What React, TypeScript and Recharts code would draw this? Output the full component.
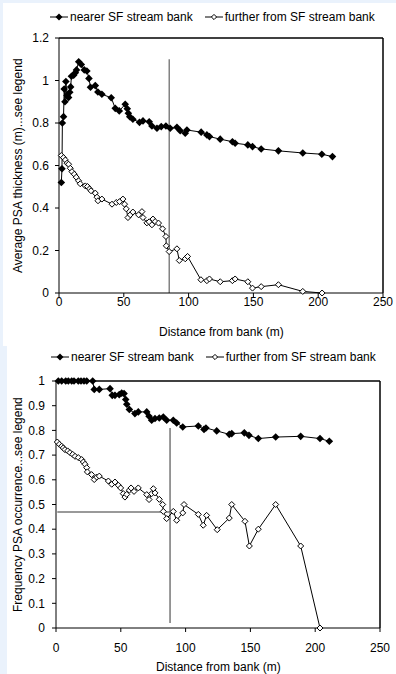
import React from "react";
import {
  LineChart,
  Line,
  XAxis,
  YAxis,
  Legend,
  ReferenceLine,
} from "recharts";

const FONT = "'Liberation Sans', Arial, sans-serif";

// distance ticks shared by both panels
const distTicks = [0, 50, 100, 150, 200, 250];
const thickTicks = [0, 0.2, 0.4, 0.6, 0.8, 1, 1.2];
const freqTicks = [0, 0.1, 0.2, 0.3, 0.4, 0.5, 0.6, 0.7, 0.8, 0.9, 1];

const legendNames = ["nearer SF stream bank", "further from SF stream bank"];
const xTitle = "Distance from bank (m)";
const thickTitle = "Average PSA thickness (m)...see legend";
const freqTitle = "Frequency PSA occurrence...see legend";

// top panel: average PSA thickness, nearer bank
const thickNearDist = [
  1.8, 2.3, 2.6, 3.5, 4.0, 4.6, 5.3, 6.2, 7.4, 8.3, 9.0, 9.6, 11.3, 12.6, 13.5,
  15.2, 17.2, 19.5, 21.5, 23.1, 24.3, 28, 30, 33.1, 40.3, 43.4, 46.5, 51.1, 52.7,
  53.5, 54.6, 57, 62.1, 64.8, 69.6, 71.7, 75.6, 78.9, 82.5, 85.8, 91, 93.5, 97.4,
  98.7, 109.7, 114.1, 116.1, 124.4, 133.8, 135.9, 145.7, 149.3, 156, 169.3,
  188.1, 202.8, 211,
];
const thickNearVal = [
  0.52, 0.585, 0.8, 0.83, 0.96, 0.9, 0.995, 0.93, 0.92, 0.945, 0.97, 1.02, 1.025,
  1.037, 1.05, 1.088, 1.075, 1.05, 1.045, 1.01, 0.968, 0.976, 0.946, 0.935, 0.919,
  0.869, 0.857, 0.888, 0.867, 0.846, 0.83, 0.818, 0.803, 0.81, 0.806, 0.786,
  0.775, 0.783, 0.786, 0.775, 0.78, 0.764, 0.752, 0.767, 0.757, 0.744, 0.736,
  0.724, 0.712, 0.705, 0.697, 0.689, 0.678, 0.669, 0.659, 0.653, 0.642,
];

// top panel: average PSA thickness, further from bank
const thickFarDist = [
  1.8, 3.5, 4.9, 6.2, 7.4, 8.7, 10, 11.8, 13.3, 15.1, 16.4, 20.3, 22, 23.6, 24.7,
  28, 29.3, 30.1, 33.1, 40.9, 44.2, 46.7, 49.3, 50.6, 51.9, 53.2, 55, 57, 61.4,
  64, 64.8, 67.8, 69.6, 71.7, 72.5, 74.2, 76.8, 79.9, 82.5, 82.8, 85, 91, 92.8,
  97.4, 99.2, 109.5, 114.1, 116.1, 124.4, 133.8, 135.9, 145.7, 149.3, 156, 169.3,
  188.1, 203,
];
const thickFarVal = [
  0.647, 0.637, 0.626, 0.611, 0.606, 0.587, 0.571, 0.559, 0.545, 0.528, 0.514,
  0.504, 0.501, 0.49, 0.481, 0.47, 0.451, 0.434, 0.442, 0.418, 0.426, 0.43, 0.442,
  0.418, 0.396, 0.355, 0.368, 0.381, 0.368, 0.383, 0.355, 0.33, 0.335, 0.321,
  0.348, 0.336, 0.329, 0.302, 0.266, 0.222, 0.195, 0.208, 0.153, 0.161, 0.172,
  0.0625, 0.058, 0.066, 0.053, 0.058, 0.066, 0.053, 0.023, 0.03, 0.039, 0.0075, 0,
];

// bottom panel: frequency of PSA occurrence, nearer bank
const freqNearDist = [
  1.8, 4.4, 7.5, 9.5, 12.1, 13.9, 17.2, 19.3, 21.6, 23.7, 28.3, 29.5, 33.4, 41.7,
  43.4, 45.5, 48.8, 50.7, 52.5, 53.8, 54.6, 56.6, 60.9, 63.5, 70, 71.8, 73.8,
  76.4, 79.7, 82.8, 85.4, 90.5, 93.1, 97.8, 109.8, 114.2, 115.7, 124, 133.7,
  135.6, 145.3, 148.9, 156.1, 169.5, 188.8, 203.7, 210.9,
];
const freqNearVal = [
  1, 1, 1, 1, 1, 1, 1, 1, 1, 1, 1, 0.966, 0.966, 0.969, 0.942, 0.942, 0.945,
  0.951, 0.949, 0.925, 0.906, 0.885, 0.868, 0.875, 0.875, 0.857, 0.841, 0.848,
  0.85, 0.854, 0.841, 0.841, 0.83, 0.814, 0.818, 0.804, 0.81, 0.798, 0.784,
  0.787, 0.79, 0.78, 0.767, 0.773, 0.776, 0.767, 0.756,
];

// bottom panel: frequency of PSA occurrence, further from bank
const freqFarDist = [
  1, 2.6, 4.4, 5.6, 6.9, 9, 10.8, 12.9, 14.7, 17.2, 19.8, 21.1, 22.4, 23.7, 24.2,
  27.5, 29.5, 31.4, 33.4, 40.4, 43, 45.5, 48.1, 49.9, 51.9, 53.2, 54.6, 56.6,
  57.9, 60.2, 63.5, 70, 71.8, 73.8, 75.1, 76.4, 79.7, 82.3, 82.8, 85.4, 90.5,
  93.1, 97.8, 98.8, 109.8, 113.6, 116.2, 124.4, 133.7, 135.6, 145.8, 149.2,
  156.1, 169.5, 188.8, 203.7,
];
const freqFarVal = [
  0.753, 0.744, 0.736, 0.729, 0.722, 0.717, 0.71, 0.703, 0.695, 0.69, 0.682,
  0.672, 0.663, 0.649, 0.632, 0.621, 0.601, 0.611, 0.615, 0.595, 0.582, 0.591,
  0.578, 0.567, 0.544, 0.53, 0.541, 0.558, 0.567, 0.553, 0.567, 0.54, 0.52,
  0.544, 0.564, 0.547, 0.521, 0.5, 0.472, 0.443, 0.472, 0.436, 0.466, 0.5, 0.46,
  0.416, 0.456, 0.398, 0.445, 0.5, 0.432, 0.332, 0.4, 0.5, 0.332, 0,
];

const zip = (xs: number[], ys: number[]) => xs.map((x, i) => ({ x, y: ys[i] }));

const diamond = (cx: number, cy: number, r: number) =>
  `M${cx},${cy - r}L${cx + r},${cy}L${cx},${cy + r}L${cx - r},${cy}Z`;

const FilledDot = (props: any) => {
  const { cx, cy, index } = props;
  if (cx == null || cy == null) return <g key={`f${index}`} />;
  return <path key={`f${index}`} d={diamond(cx, cy, 3.8)} fill="#000" />;
};

const OpenDot = (props: any) => {
  const { cx, cy, index } = props;
  if (cx == null || cy == null) return <g key={`o${index}`} />;
  return (
    <path
      key={`o${index}`}
      d={diamond(cx, cy, 3)}
      fill="#fff"
      stroke="#000"
      strokeWidth={1}
    />
  );
};

const LegendIcon = ({ filled }: { filled: boolean }) => (
  <svg width={18} height={10} style={{ display: "block" }}>
    <line x1={0} y1={5} x2={18} y2={5} stroke="#000" strokeWidth={1} />
    {filled ? (
      <path d={diamond(9, 5, 3.5)} fill="#000" />
    ) : (
      <path d={diamond(9, 5, 2.6)} fill="#fff" stroke="#000" strokeWidth={1} />
    )}
  </svg>
);

const LegendRow = ({ lineY }: { lineY: number }) => (
  <div
    style={{
      display: "flex",
      alignItems: "center",
      fontFamily: FONT,
      fontSize: 12,
      color: "#000",
      whiteSpace: "nowrap",
      marginTop: lineY - 6,
      lineHeight: "12px",
    }}
  >
    <LegendIcon filled />
    <span style={{ marginLeft: 2 }}>{legendNames[0]}</span>
    <span style={{ marginLeft: 12 }}>
      <LegendIcon filled={false} />
    </span>
    <span style={{ marginLeft: 2 }}>{legendNames[1]}</span>
  </div>
);

// axis titles and the top/right plot frame, in an svg laid over the panel
const Overlay = ({
  w,
  h,
  plot,
  xStart,
  xBase,
  yText,
  yBase,
  yStart,
}: {
  w: number;
  h: number;
  plot: { left: number; top: number; width: number; height: number };
  xStart: number;
  xBase: number;
  yText: string;
  yBase: number;
  yStart: number;
}) => (
  <svg
    width={w}
    height={h}
    style={{
      position: "absolute",
      left: 0,
      top: 0,
      pointerEvents: "none",
      zIndex: 5,
    }}
  >
    <line
      x1={plot.left}
      y1={plot.top}
      x2={plot.left + plot.width}
      y2={plot.top}
      stroke="#000"
      strokeWidth={1.5}
    />
    <line
      x1={plot.left + plot.width}
      y1={plot.top}
      x2={plot.left + plot.width}
      y2={plot.top + plot.height}
      stroke="#000"
      strokeWidth={1.5}
    />
    <text x={xStart} y={xBase} fontFamily={FONT} fontSize={12} fill="#000">
      {xTitle}
    </text>
    <text
      x={0}
      y={0}
      transform={`translate(${yBase}, ${yStart}) rotate(-90)`}
      fontFamily={FONT}
      fontSize={12}
      fill="#000"
    >
      {yText}
    </text>
  </svg>
);

const tickStyle = { fontFamily: FONT, fontSize: 12, fill: "#000" };

// plot boxes follow from the margins and axis sizes set below
const topMargin = { top: 4, right: 13, bottom: 23, left: 0 };
const topPlot = { left: 56, top: 35, width: 393 - 56 - 13, height: 343 - 35 - 23 - 30 };
const botMargin = { top: 0, right: 16, bottom: 16, left: 0 };
const botPlot = { left: 49, top: 35, width: 389 - 49 - 16, height: 328 - 35 - 16 - 30 };

export default function App() {
  const thickNear = zip(thickNearDist, thickNearVal);
  const thickFar = zip(thickFarDist, thickFarVal);
  const freqNear = zip(freqNearDist, freqNearVal);
  const freqFar = zip(freqFarDist, freqFarVal);

  return (
    <div
      style={{
        position: "absolute",
        left: 0,
        top: 0,
        width: 396,
        height: 674,
        background: "#eaf2fc",
        overflow: "hidden",
      }}
    >
      <div
        style={{
          position: "absolute",
          left: 3,
          top: 3,
          width: 393,
          height: 343,
          background: "#fff",
        }}
      >
        <LineChart width={393} height={343} margin={topMargin}>
          <Legend
            verticalAlign="top"
            wrapperStyle={{ top: 4, left: 47, width: 340, height: 31 }}
            content={() => <LegendRow lineY={10} />}
          />
          <XAxis
            dataKey="x"
            type="number"
            domain={[0, 250]}
            ticks={distTicks}
            tickSize={4}
            tickMargin={0}
            height={30}
            tick={tickStyle}
            stroke="#000"
            allowDuplicatedCategory={false}
          />
          <YAxis
            type="number"
            domain={[0, 1.2]}
            ticks={thickTicks}
            tickSize={4}
            tickMargin={6}
            width={56}
            tick={tickStyle}
            stroke="#000"
          />
          <ReferenceLine
            segment={[
              { x: 85, y: 0 },
              { x: 85, y: 1.1 },
            ]}
            stroke="#444"
            strokeWidth={1}
          />
          <Line
            data={thickNear}
            dataKey="y"
            name={legendNames[0]}
            stroke="#000"
            strokeWidth={1}
            dot={FilledDot}
            isAnimationActive={false}
          />
          <Line
            data={thickFar}
            dataKey="y"
            name={legendNames[1]}
            stroke="#000"
            strokeWidth={1}
            dot={OpenDot}
            isAnimationActive={false}
          />
        </LineChart>
        <Overlay
          w={393}
          h={343}
          plot={topPlot}
          xStart={156}
          xBase={333}
          yText={thickTitle}
          yBase={19}
          yStart={270}
        />
      </div>

      <div
        style={{
          position: "absolute",
          left: 7,
          top: 346,
          width: 389,
          height: 328,
          background: "#fff",
        }}
      >
        <LineChart width={389} height={328} margin={botMargin}>
          <Legend
            verticalAlign="top"
            wrapperStyle={{ top: 0, left: 44, width: 340, height: 35 }}
            content={() => <LegendRow lineY={11} />}
          />
          <XAxis
            dataKey="x"
            type="number"
            domain={[0, 250]}
            ticks={distTicks}
            tickSize={4}
            tickMargin={11}
            height={30}
            tick={tickStyle}
            stroke="#000"
            allowDuplicatedCategory={false}
          />
          <YAxis
            type="number"
            domain={[0, 1]}
            ticks={freqTicks}
            tickSize={4}
            tickMargin={7}
            width={49}
            tick={tickStyle}
            stroke="#000"
          />
          <ReferenceLine
            segment={[
              { x: 88, y: 0.02 },
              { x: 88, y: 0.81 },
            ]}
            stroke="#777"
            strokeWidth={1.5}
          />
          <ReferenceLine
            segment={[
              { x: 1, y: 0.47 },
              { x: 88, y: 0.47 },
            ]}
            stroke="#777"
            strokeWidth={1.5}
          />
          <Line
            data={freqNear}
            dataKey="y"
            name={legendNames[0]}
            stroke="#000"
            strokeWidth={1}
            dot={FilledDot}
            isAnimationActive={false}
          />
          <Line
            data={freqFar}
            dataKey="y"
            name={legendNames[1]}
            stroke="#000"
            strokeWidth={1}
            dot={OpenDot}
            isAnimationActive={false}
          />
        </LineChart>
        <Overlay
          w={389}
          h={328}
          plot={botPlot}
          xStart={149}
          xBase={325}
          yText={freqTitle}
          yBase={15}
          yStart={266}
        />
      </div>
    </div>
  );
}
